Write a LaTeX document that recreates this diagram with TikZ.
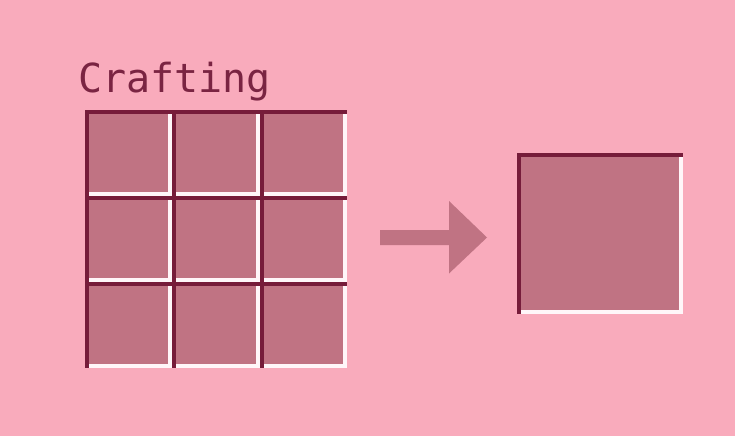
\documentclass[tikz,border=0pt]{standalone}
\usepackage{fontspec}
\newfontfamily\craftfont{DejaVu Sans Mono}
\usepackage{tikz}
\definecolor{bgpink}{RGB}{249,171,188}
\definecolor{slotfill}{RGB}{192,115,131}
\definecolor{slotdark}{RGB}{118,28,58}
\definecolor{slotlight}{RGB}{255,246,249}
\definecolor{titlemaroon}{RGB}{122,36,66}
% dark edge top/left, light edge bottom/right
\newcommand{\slotedge}[1]{%
  \fill[slotdark] (#1.south west) rectangle ([xshift=4pt]#1.north west);
  \fill[slotdark] (#1.north west) rectangle ([yshift=-4pt]#1.north east);
  \fill[slotlight] ([yshift=-4pt]#1.north east) rectangle ([xshift=-4pt]#1.south east);
  \fill[slotlight] ([xshift=4pt]#1.south west) rectangle ([yshift=4pt]#1.south east);
}

\begin{document}
\begin{tikzpicture}[x=1pt, y=-1pt,
  slot/.style={fill=slotfill, inner sep=0pt, outer sep=0pt, minimum width=87.3pt, minimum height=86pt}]

\fill[bgpink] (0,0) rectangle (735,436);
\useasboundingbox (0,0) rectangle (735,436);

\node[anchor=base west, inner sep=0pt, text=titlemaroon, font=\craftfont\fontsize{40}{40}\selectfont] (title) at (78,92) {Crafting};

\foreach \i in {0,1,2}
  \foreach \j in {0,1,2} {
    \node[slot] (c\i\j) at (128.65+87.3*\i, 153+86*\j) {};
    \slotedge{c\i\j}
  }

\node[slot, minimum width=166pt, minimum height=161pt] (result) at (600,233.5) {};
\slotedge{result}

\coordinate (tail) at (380,237.5);
\coordinate (tip) at (487,237.5);
\fill[slotfill] (tail) ++(0,-7.5) -- ++(69,0) -- ++(0,-29) -- (tip)
  -- (449,273.5) -- ++(0,-28.5) -- ++(-69,0) -- cycle;

\end{tikzpicture}
\end{document}
